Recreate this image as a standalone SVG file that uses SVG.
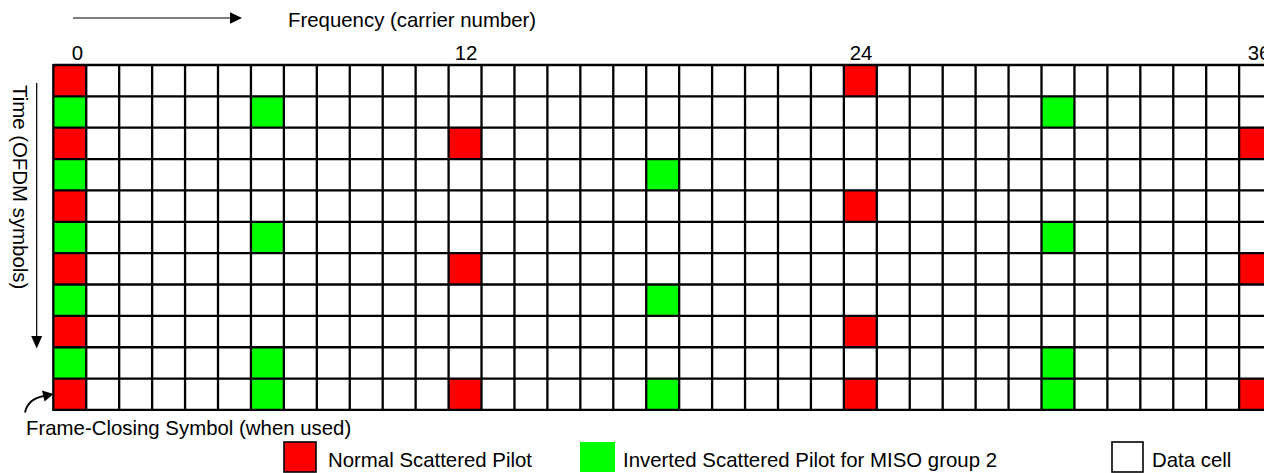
<svg xmlns="http://www.w3.org/2000/svg" width="1264" height="473" viewBox="0 0 1264 473">
<style>
text{font-family:"Liberation Sans",Arial,sans-serif;font-size:20.4px;fill:#000}
.r{fill:#ff0000}
.g{fill:#00ff00}
.grid{fill:none;stroke:#000;stroke-width:2.3}
.arr{fill:none;stroke:#000;stroke-width:1.2}
.head{fill:#000}
.mid{text-anchor:middle}
</style>
<rect width="1264" height="473" fill="#fff"/>
<g id="pilots">
<g id="row0"><rect class="r" x="53.3" y="65" width="32.94" height="31.36"/><rect class="r" x="843.86" y="65" width="32.94" height="31.36"/></g>
<g id="row1"><rect class="g" x="53.3" y="96.36" width="32.94" height="31.36"/><rect class="g" x="250.94" y="96.36" width="32.94" height="31.36"/><rect class="g" x="1041.5" y="96.36" width="32.94" height="31.36"/></g>
<g id="row2"><rect class="r" x="53.3" y="127.72" width="32.94" height="31.36"/><rect class="r" x="448.58" y="127.72" width="32.94" height="31.36"/><rect class="r" x="1239.14" y="127.72" width="32.94" height="31.36"/></g>
<g id="row3"><rect class="g" x="53.3" y="159.08" width="32.94" height="31.36"/><rect class="g" x="646.22" y="159.08" width="32.94" height="31.36"/></g>
<g id="row4"><rect class="r" x="53.3" y="190.44" width="32.94" height="31.36"/><rect class="r" x="843.86" y="190.44" width="32.94" height="31.36"/></g>
<g id="row5"><rect class="g" x="53.3" y="221.8" width="32.94" height="31.36"/><rect class="g" x="250.94" y="221.8" width="32.94" height="31.36"/><rect class="g" x="1041.5" y="221.8" width="32.94" height="31.36"/></g>
<g id="row6"><rect class="r" x="53.3" y="253.16" width="32.94" height="31.36"/><rect class="r" x="448.58" y="253.16" width="32.94" height="31.36"/><rect class="r" x="1239.14" y="253.16" width="32.94" height="31.36"/></g>
<g id="row7"><rect class="g" x="53.3" y="284.52" width="32.94" height="31.36"/><rect class="g" x="646.22" y="284.52" width="32.94" height="31.36"/></g>
<g id="row8"><rect class="r" x="53.3" y="315.88" width="32.94" height="31.36"/><rect class="r" x="843.86" y="315.88" width="32.94" height="31.36"/></g>
<g id="row9"><rect class="g" x="53.3" y="347.24" width="32.94" height="31.36"/><rect class="g" x="250.94" y="347.24" width="32.94" height="31.36"/><rect class="g" x="1041.5" y="347.24" width="32.94" height="31.36"/></g>
<g id="row10"><rect class="r" x="53.3" y="378.6" width="32.94" height="31.36"/><rect class="g" x="250.94" y="378.6" width="32.94" height="31.36"/><rect class="r" x="448.58" y="378.6" width="32.94" height="31.36"/><rect class="g" x="646.22" y="378.6" width="32.94" height="31.36"/><rect class="r" x="843.86" y="378.6" width="32.94" height="31.36"/><rect class="g" x="1041.5" y="378.6" width="32.94" height="31.36"/><rect class="r" x="1239.14" y="378.6" width="32.94" height="31.36"/></g>
</g>
<g id="grid">
<path class="grid" d="M53.3,65H1264M53.3,96.36H1264M53.3,127.72H1264M53.3,159.08H1264M53.3,190.44H1264M53.3,221.8H1264M53.3,253.16H1264M53.3,284.52H1264M53.3,315.88H1264M53.3,347.24H1264M53.3,378.6H1264M53.3,409.96H1264"/>
<path class="grid" d="M53.3,63.9V411.1M86.24,65V410M119.18,65V410M152.12,65V410M185.06,65V410M218,65V410M250.94,65V410M283.88,65V410M316.82,65V410M349.76,65V410M382.7,65V410M415.64,65V410M448.58,65V410M481.52,65V410M514.46,65V410M547.4,65V410M580.34,65V410M613.28,65V410M646.22,65V410M679.16,65V410M712.1,65V410M745.04,65V410M777.98,65V410M810.92,65V410M843.86,65V410M876.8,65V410M909.74,65V410M942.68,65V410M975.62,65V410M1008.56,65V410M1041.5,65V410M1074.44,65V410M1107.38,65V410M1140.32,65V410M1173.26,65V410M1206.2,65V410M1239.14,65V410"/>
</g>
<g id="carrier-labels">
<text x="77.5" y="60" class="mid">0</text>
<text x="466" y="60" class="mid">12</text>
<text x="861" y="60" class="mid">24</text>
<text x="1259" y="60" class="mid">36</text>
</g>
<g id="frequency-label"><text x="288" y="27">Frequency (carrier number)</text></g>
<g id="time-label"><text transform="translate(13,85) rotate(90)">Time (OFDM symbols)</text></g>
<g id="frame-closing-label"><text x="26" y="435">Frame-Closing Symbol (when used)</text></g>
<g id="connectors">
<path class="arr" d="M73,18H232"/>
<polygon class="head" points="242,18 230,12.3 230,23.7"/>
<path class="arr" d="M36.7,83V338"/>
<polygon class="head" points="36.7,348.5 31.2,336 42.2,336"/>
<path class="arr" d="M25,412.5C27,403 33,398 44,396" style="stroke-width:1.8"/>
<polygon class="head" points="53.5,394 42,390.6 44.6,401.4"/>
</g>
<g id="legend-normal"><rect x="284" y="442" width="32" height="30" fill="#ff0000" stroke="#000" stroke-width="1.6"/><text x="328" y="467">Normal Scattered Pilot</text></g>
<g id="legend-inverted"><rect x="580" y="442" width="35" height="30" fill="#00ff00"/><text x="623" y="467">Inverted Scattered Pilot for MISO group 2</text></g>
<g id="legend-data"><rect x="1112" y="442" width="31" height="30" fill="#fff" stroke="#000" stroke-width="1.6"/><text x="1152" y="467">Data cell</text></g>
</svg>
